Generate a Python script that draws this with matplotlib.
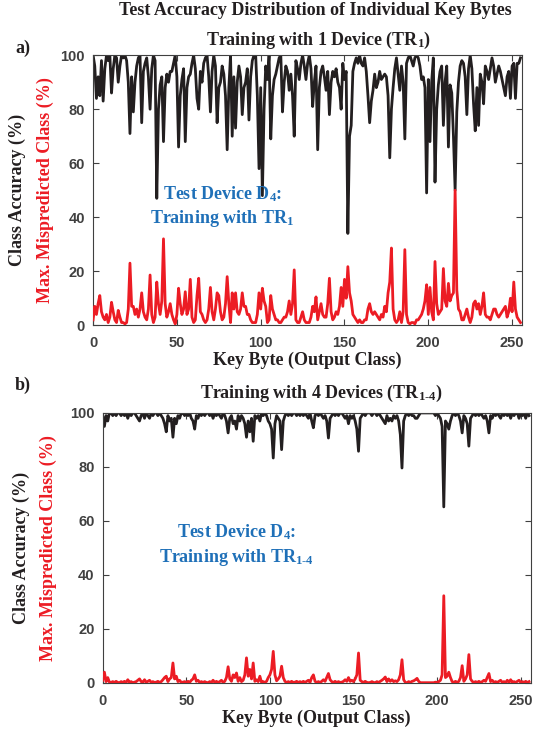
#!/usr/bin/env python3
"""Per-key-byte test accuracy and max mispredicted class, two training setups."""

import matplotlib

matplotlib.use("Agg")
import matplotlib.pyplot as plt
import numpy as np

plt.rcParams["font.family"] = ["Liberation Serif", "DejaVu Serif"]
plt.rcParams["mathtext.fontset"] = "custom"
plt.rcParams["mathtext.rm"] = "Liberation Serif:bold"
plt.rcParams["mathtext.it"] = "Liberation Serif:bold"
plt.rcParams["mathtext.bf"] = "Liberation Serif:bold"

BLACK = "#231F20"
RED = "#EC1C24"
BLUE = "#1F70B8"
GRAY = "#404040"

# ---- data: panel a (training with 1 device) ----
acc_tr1 = [
    100, 96, 84, 92, 85, 98, 83, 95, 100, 98, 100, 86, 95, 100, 99, 90,
    96, 100, 99, 100, 98, 90, 71, 92, 79, 90, 96, 99, 100, 75, 94, 97,
    99, 92, 80, 95, 100, 98, 47, 80, 89, 92, 68, 88, 93, 90, 94, 94,
    97, 100, 92, 66, 85, 91, 95, 68, 88, 92, 93, 97, 100, 95, 84, 80,
    94, 90, 97, 99, 100, 92, 79, 94, 100, 96, 75, 88, 90, 96, 93, 85,
    65, 88, 100, 70, 92, 73, 90, 96, 92, 78, 88, 90, 95, 76, 92, 98,
    100, 100, 85, 58, 88, 48, 80, 96, 91, 100, 69, 85, 91, 93, 96, 99,
    100, 79, 90, 96, 94, 87, 93, 85, 70, 98, 95, 91, 97, 100, 96, 91,
    97, 100, 95, 81, 90, 96, 65, 88, 94, 96, 92, 87, 94, 78, 90, 94,
    92, 95, 90, 88, 80, 97, 91, 94, 34, 70, 74, 94, 97, 99, 97, 100,
    97, 96, 99, 94, 85, 75, 83, 87, 93, 88, 90, 94, 91, 92, 93, 92,
    85, 62, 80, 88, 95, 99, 93, 87, 96, 90, 69, 97, 99, 100, 98, 96,
    99, 100, 99, 96, 91, 92, 88, 49, 91, 68, 90, 99, 53, 80, 89, 94,
    96, 74, 90, 96, 66, 89, 86, 70, 50, 79, 90, 96, 98, 97, 92, 78,
    95, 100, 95, 82, 72, 88, 74, 93, 90, 82, 96, 94, 91, 95, 99, 96,
    90, 93, 96, 94, 91, 88, 85, 92, 94, 84, 96, 97, 84, 97, 97, 99,
]
mis_tr1 = [
    2, 7, 4, 8, 11, 5, 3, 2, 4, 1, 3, 8.5, 5, 2, 1, 5.5,
    3, 1, 1, 0.5, 1, 6, 23, 7, 7, 4, 6, 3, 6, 12, 5, 3,
    2, 6, 18.6, 4, 1, 3, 16, 8, 4, 9, 32, 8, 3, 5, 8, 4,
    2, 0.5, 4, 13.7, 8, 4, 6, 12.4, 4, 6, 17, 3, 1, 2, 11, 17.4,
    5, 4, 2, 1, 2, 6, 14, 5, 2, 6, 12, 11, 5, 2, 3, 8,
    18, 8, 1, 12, 6, 12, 5, 4, 6, 12, 7, 7, 4, 4, 2, 1,
    1, 1, 4, 12, 6, 13.7, 9, 7, 1, 2, 11, 6, 4, 2, 2, 1,
    1, 2, 3, 3, 5, 9, 4, 8, 20.5, 2, 1, 1, 3, 5, 2, 1,
    1, 1, 3, 7, 5, 10.5, 2, 5, 8, 4, 3, 3, 8, 17.4, 5, 2,
    3, 5, 4, 7, 14, 7, 17, 10, 21.7, 12, 9, 4, 3, 2, 1, 2,
    1, 1, 2, 2, 6, 8, 5, 4, 5, 4, 3, 2, 4, 3, 7, 5,
    12, 16, 28.6, 6, 2, 1, 2, 5, 1, 5, 28, 4, 1, 0.5, 1, 1,
    0.5, 2, 2, 3, 4, 6, 9, 15, 4, 14, 5, 2, 23.6, 8, 4, 5,
    6, 21, 9, 7, 15.5, 9, 11, 12, 50, 13, 6, 5, 2, 2, 4, 6,
    3, 1, 3, 8, 9, 6, 8, 4, 7, 12, 4, 3, 3, 2, 4, 6,
    6, 4, 3, 4, 5, 6, 7, 3, 5, 10, 5, 16, 6, 3, 2, 1,
]

# ---- data: panel b (training with 4 devices) ----
acc_tr14 = [
    99, 95, 99, 97, 100, 100, 99, 100, 99, 100, 100, 99, 100, 99, 100, 98,
    100, 99, 100, 100, 99, 98, 97, 99, 100, 98, 100, 99, 98, 100, 99, 100,
    100, 99, 100, 99, 98, 96, 93, 99, 97, 98, 91, 98, 96, 99, 98, 100,
    100, 99, 100, 99, 100, 98, 97, 94, 99, 98, 100, 99, 100, 99, 100, 100,
    99, 100, 98, 100, 99, 100, 99, 98, 100, 99, 97, 92.6, 98, 99, 96, 97,
    94, 99, 97, 99, 98, 96, 91, 97, 93, 98, 89.5, 99, 98, 99, 97, 100,
    99, 100, 99, 97, 96, 94, 83.3, 96, 99, 98, 97, 86.4, 97, 99, 100, 99,
    100, 99, 100, 100, 99, 100, 99, 100, 99, 100, 99, 98, 100, 97, 94.5, 99,
    100, 99, 100, 99, 98, 99, 97, 90.7, 98, 99, 100, 99, 100, 99, 100, 100,
    99, 98, 99, 96, 99, 98, 99, 97, 94, 85.8, 98, 99, 100, 99, 100, 100,
    100, 99, 100, 100, 99, 100, 99, 98, 97, 96, 99, 97, 98, 97, 99, 98,
    99, 97, 92, 79.6, 97, 99, 100, 99, 100, 99, 99, 98, 98, 99, 100, 100,
    100, 100, 100, 100, 100, 100, 100, 99, 100, 99, 98, 95, 65.2, 97, 96, 94,
    97, 99, 100, 99, 100, 99, 97, 92.6, 99, 98, 96, 87.7, 98, 99, 100, 99,
    100, 99, 100, 99, 98, 99, 97, 92.6, 99, 98, 100, 99, 100, 99, 98, 100,
    99, 100, 99, 100, 98, 100, 99, 100, 100, 98, 100, 99, 100, 98, 100, 99,
]
mis_tr14 = [
    1, 4, 0.5, 2, 0.3, 0.2, 0.5, 0.2, 0.6, 0.2, 0.1, 0.5, 0.2, 0.6, 0.2, 1.2,
    0.2, 0.5, 0.1, 0.3, 0.5, 1, 1.5, 0.5, 0.2, 1.2, 0.3, 0.6, 1, 0.2, 0.5, 0.2,
    0.3, 0.6, 0.2, 0.5, 1.2, 2, 2.5, 0.5, 1.5, 2, 7.4, 1.5, 2.5, 0.5, 1, 0.2,
    0.3, 0.5, 0.2, 0.6, 0.2, 1, 1.5, 3, 0.6, 1, 0.2, 0.5, 0.2, 0.5, 0.2, 0.1,
    0.5, 0.2, 1, 0.2, 0.6, 0.2, 0.5, 1, 0.2, 0.6, 2, 6, 1.5, 0.6, 3, 2,
    3.7, 0.6, 2, 0.5, 1, 3, 9.3, 2.5, 5, 1.5, 7.4, 0.6, 1.2, 0.5, 2.5, 0.2,
    0.5, 0.2, 0.6, 2, 3, 5, 11.7, 3, 0.8, 1.5, 2.5, 6.2, 2, 0.6, 0.2, 0.5,
    0.2, 0.6, 0.2, 0.3, 0.6, 0.2, 0.5, 0.2, 0.6, 0.2, 0.6, 1, 0.2, 2, 3, 0.6,
    0.2, 0.5, 0.2, 0.6, 1.2, 0.6, 2, 3.5, 1.2, 0.5, 0.2, 0.6, 0.2, 0.5, 0.2, 0.3,
    0.6, 1.2, 0.6, 2, 0.6, 1, 0.5, 1.5, 3, 11.1, 1, 0.5, 0.2, 0.6, 0.2, 0.1,
    0.2, 0.5, 0.2, 0.1, 0.5, 0.2, 0.6, 1, 1.5, 2.2, 0.5, 1.5, 0.6, 1.2, 0.5, 0.8,
    0.5, 1.2, 3, 8.6, 1.2, 0.2, 0.1, 0.5, 0.2, 0.6, 0.8, 1.2, 1.7, 0.6, 0.1, 0.1,
    0.1, 0.1, 0.1, 0.1, 0.1, 0.1, 0.1, 0.3, 0.2, 0.5, 1, 3, 32.3, 2, 2.5, 4,
    2, 0.5, 0.2, 0.6, 0.2, 0.6, 2, 6.4, 0.6, 1.5, 3, 10.5, 1.5, 0.6, 0.2, 0.5,
    0.2, 0.6, 0.2, 0.5, 1, 0.6, 2, 3.5, 0.5, 1, 0.2, 0.5, 0.2, 0.6, 1, 0.2,
    0.5, 0.2, 1, 0.2, 1.2, 0.2, 0.5, 0.2, 0.6, 1, 0.2, 0.5, 0.2, 0.6, 0.2, 0.5,
]

key_bytes = np.arange(len(acc_tr1))
x_ticks = [0, 50, 100, 150, 200, 250]
y_ticks = [0, 20, 40, 60, 80, 100]

panels = [
    dict(acc=acc_tr1, mis=mis_tr1, rect=[0.174, 0.564, 0.802, 0.362],
         title="Training with 1 Device (TR$_{1}$)", letter="a)", letter_y=0.935,
         note="Test Device D$_{4}$:\nTraining with TR$_{1}$", note_xy=(77, 44),
         ylab_x=(0.032, 0.085), ylab_y=0.745, title_x=0.595, title_y=0.946),
    dict(acc=acc_tr14, mis=mis_tr14, rect=[0.192, 0.0845, 0.8, 0.362],
         title="Training with 4 Devices (TR$_{\\text{1-4}}$)", letter="b)", letter_y=0.484,
         note="Test Device D$_{4}$:\nTraining with TR$_{\\text{1-4}}$", note_xy=(80, 51),
         ylab_x=(0.040, 0.090), ylab_y=0.265, title_x=0.600, title_y=0.473),
]

fig = plt.figure(figsize=(5.35, 7.46), dpi=100)
fig.text(0.59, 0.986, "Test Accuracy Distribution of Individual Key Bytes",
         ha="center", va="center", fontsize=13, fontweight="bold", color=BLACK)

for p in panels:
    ax = fig.add_axes(p["rect"])
    ax.plot(key_bytes, p["acc"], color=BLACK, lw=2.0, zorder=2)
    ax.plot(key_bytes, p["mis"], color=RED, lw=2.0, zorder=3)
    ax.set_xlim(0, 256)
    ax.set_ylim(0, 100)
    ax.set_xticks(x_ticks)
    ax.set_yticks(y_ticks)
    ax.tick_params(direction="in", top=True, right=True, length=4, width=0.8,
                   colors=GRAY, labelsize=10.5)
    ax.tick_params(axis="x", pad=8)
    ax.tick_params(axis="y", pad=6)
    for lab in ax.get_xticklabels() + ax.get_yticklabels():
        lab.set_fontfamily("Liberation Sans")
        lab.set_fontweight("bold")
    for s in ax.spines.values():
        s.set_color(GRAY)
        s.set_linewidth(0.8)
    ax.set_xlabel("Key Byte (Output Class)", fontsize=13, fontweight="bold",
                  color=BLACK, labelpad=1)
    fig.text(p["title_x"], p["title_y"], p["title"], ha="center",
             va="center", fontsize=13, fontweight="bold", color=BLACK)
    fig.text(0.028, p["letter_y"], p["letter"], ha="left", va="center",
             fontsize=13, fontweight="bold", color=BLACK)
    fig.text(p["ylab_x"][0], p["ylab_y"], "Class Accuracy (%)", rotation=90,
             ha="center", va="center", fontsize=13, fontweight="bold", color=BLACK)
    fig.text(p["ylab_x"][1], p["ylab_y"], "Max. Mispredicted Class (%)", rotation=90,
             ha="center", va="center", fontsize=13, fontweight="bold", color=RED)
    ax.text(p["note_xy"][0], p["note_xy"][1], p["note"], ha="center", va="center",
            fontsize=13, fontweight="bold", color=BLUE, linespacing=1.3, zorder=4)

fig.savefig("out.png", dpi=100)
